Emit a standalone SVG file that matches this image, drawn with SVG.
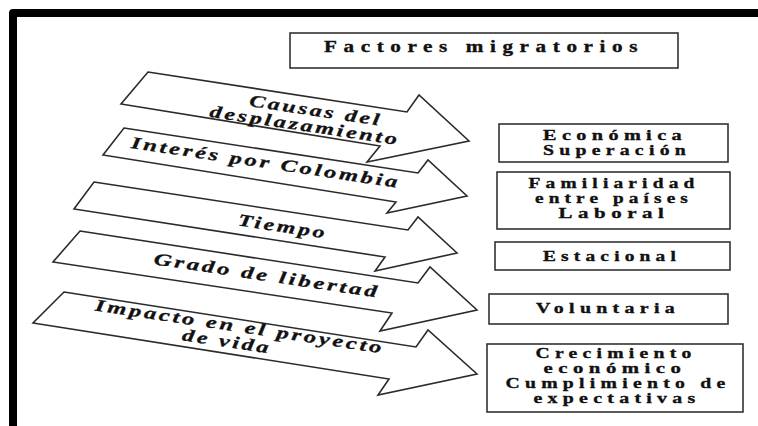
<svg xmlns="http://www.w3.org/2000/svg" width="758" height="426" viewBox="0 0 758 426">
<style>
.frame{fill:none;stroke:#000;stroke-width:8;stroke-linejoin:round}
.arrow{fill:#fff;stroke:#2b2b2b;stroke-width:1.6;stroke-linejoin:miter}
.box{fill:#fff;stroke:#333;stroke-width:1.6}
.at{font-family:"Liberation Serif","Times New Roman",serif;font-weight:bold;font-style:italic;font-size:17px;letter-spacing:2px;fill:#111;stroke:#111;stroke-width:0.3;text-anchor:middle}
.bt{font-family:"Liberation Serif","Times New Roman",serif;font-weight:bold;font-size:15px;letter-spacing:4px;fill:#111;stroke:#111;stroke-width:0.35;text-anchor:middle}
.tt{font-family:"Liberation Serif","Times New Roman",serif;font-weight:bold;font-size:16px;letter-spacing:5px;fill:#111;stroke:#111;stroke-width:0.35;text-anchor:middle}
</style>
<rect x="0" y="0" width="758" height="426" fill="#fff"/>
<path class="frame" d="M13,426 V13 H758"/>

<g id="title">
<rect class="box" x="290" y="33" width="388" height="35"/>
<text class="tt" x="484" y="52" textLength="320" lengthAdjust="spacingAndGlyphs">Factores migratorios</text>
</g>

<g id="arrows">
<g id="arrow-impacto">
<polygon class="arrow" points="64,292 416,347 428,330 477,374 378,395 389,379 33,323"/>
<text class="at" x="239" y="332" transform="rotate(8.5 239 332)" textLength="292" lengthAdjust="spacingAndGlyphs">Impacto en el proyecto</text>
<text class="at" x="226" y="347" transform="rotate(8.5 226 347)" textLength="90" lengthAdjust="spacingAndGlyphs">de vida</text>
</g>
<g id="arrow-grado">
<polygon class="arrow" points="80,231 418,283 430,267 477,310 380,331 392,313 53,262"/>
<text class="at" x="266" y="281" transform="rotate(8.5 266 281)" textLength="228" lengthAdjust="spacingAndGlyphs">Grado de libertad</text>
</g>
<g id="arrow-tiempo">
<polygon class="arrow" points="94,182 408,230 418,217 457,253 375,271 385,257 74,209"/>
<text class="at" x="282" y="232" transform="rotate(8.5 282 232)" textLength="90" lengthAdjust="spacingAndGlyphs">Tiempo</text>
</g>
<g id="arrow-interes">
<polygon class="arrow" points="124,128 418,173 428,160 467,196 387,213 396,202 103,155"/>
<text class="at" x="265" y="168" transform="rotate(8.5 265 168)" textLength="272" lengthAdjust="spacingAndGlyphs">Interés por Colombia</text>
</g>
<g id="arrow-causas">
<polygon class="arrow" points="148,72 407,112 419,95 469,141 367,162 380,146 121,104"/>
<text class="at" x="315" y="116" transform="rotate(8.5 315 116)" textLength="134" lengthAdjust="spacingAndGlyphs">Causas del</text>
<text class="at" x="304" y="131" transform="rotate(8.5 304 131)" textLength="192" lengthAdjust="spacingAndGlyphs">desplazamiento</text>
</g>
</g>

<g id="box-economica">
<rect class="box" x="499" y="124" width="229" height="38"/>
<text class="bt" x="615" y="140" textLength="144" lengthAdjust="spacingAndGlyphs">Económica</text>
<text class="bt" x="617" y="155" textLength="148" lengthAdjust="spacingAndGlyphs">Superación</text>
</g>
<g id="box-familiaridad">
<rect class="box" x="497" y="172" width="233" height="57"/>
<text class="bt" x="614" y="188" textLength="171" lengthAdjust="spacingAndGlyphs">Familiaridad</text>
<text class="bt" x="614" y="203" textLength="158" lengthAdjust="spacingAndGlyphs">entre países</text>
<text class="bt" x="614" y="218" textLength="111" lengthAdjust="spacingAndGlyphs">Laboral</text>
</g>
<g id="box-estacional">
<rect class="box" x="495" y="242" width="235" height="28"/>
<text class="bt" x="612" y="261" textLength="138" lengthAdjust="spacingAndGlyphs">Estacional</text>
</g>
<g id="box-voluntaria">
<rect class="box" x="489" y="294" width="239" height="30"/>
<text class="bt" x="608" y="313" textLength="144" lengthAdjust="spacingAndGlyphs">Voluntaria</text>
</g>
<g id="box-crecimiento">
<rect class="box" x="487" y="344" width="256" height="68"/>
<text class="bt" x="616" y="358" textLength="161" lengthAdjust="spacingAndGlyphs">Crecimiento</text>
<text class="bt" x="615" y="373" textLength="143" lengthAdjust="spacingAndGlyphs">económico</text>
<text class="bt" x="618" y="388" textLength="225" lengthAdjust="spacingAndGlyphs">Cumplimiento de</text>
<text class="bt" x="617" y="403" textLength="167" lengthAdjust="spacingAndGlyphs">expectativas</text>
</g>
</svg>
